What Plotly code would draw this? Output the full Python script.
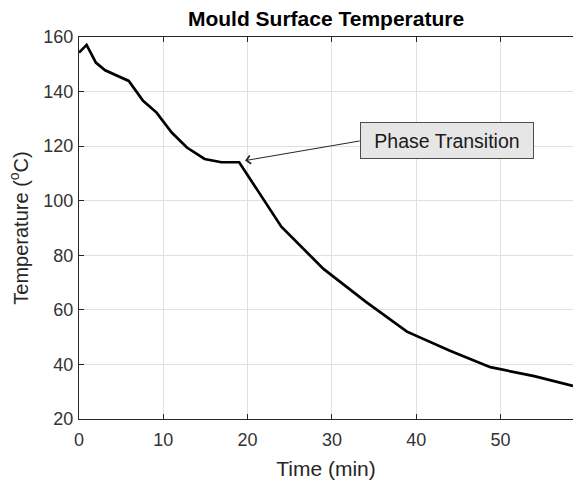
import plotly.graph_objects as go

time_min = [0, 0.9, 2.0, 3.1, 5.9, 7.6, 9.2, 11.0, 12.8, 14.9, 16.9, 19.0, 24.0, 29.0, 34.0, 38.9, 44.0, 48.8, 54.0, 58.6]
temp_c = [154.3, 157.1, 150.6, 147.8, 143.9, 136.6, 132.3, 125.0, 119.5, 115.3, 114.1, 114.1, 90.5, 75.0, 63.0, 52.0, 45.0, 39.0, 35.7, 32.1]
x_ticks = [0, 10, 20, 30, 40, 50]
y_ticks = [20, 40, 60, 80, 100, 120, 140, 160]

font = "Liberation Sans, Arial, Helvetica, sans-serif"
fig = go.Figure()
fig.add_trace(go.Scatter(x=time_min, y=temp_c, mode="lines",
                         line=dict(color="black", width=2.7), showlegend=False))

fig.add_annotation(x=19.7, y=114.7, ax=33.3, ay=121.9, axref="x", ayref="y",
                   xref="x", yref="y", text="Phase Transition", showarrow=True,
                   arrowhead=4, arrowsize=1.6, arrowwidth=1, arrowcolor="#262626",
                   bgcolor="#e6e6e6", bordercolor="#4d4d4d", borderwidth=1,
                   borderpad=5, width=162, height=25, align="center",
                   font=dict(family=font, size=19.5, color="#1a1a1a"),
                   xanchor="left", yanchor="middle")

axis_common = dict(showline=True, linecolor="#262626", linewidth=1,
                   ticks="inside", ticklen=5, tickcolor="#262626",
                   showgrid=True, gridcolor="#e0e0e0", gridwidth=1,
                   zeroline=False, tickfont=dict(family=font, size=18, color="#333333"))

fig.update_layout(
    width=573, height=482,
    paper_bgcolor="white", plot_bgcolor="white",
    margin=dict(l=79, r=0, t=37, b=63),
    title=dict(text="<b>Mould Surface Temperature</b>", x=0.569, xanchor="center",
               y=0.961, yanchor="middle",
               font=dict(family=font, size=21, color="black")),
    xaxis=dict(range=[0, 58.6], tickvals=x_ticks, mirror="ticks", ticklabelstandoff=4,
               title=dict(text="Time (min)", font=dict(family=font, size=21, color="#262626"), standoff=12),
               **axis_common),
    yaxis=dict(range=[20, 160], tickvals=y_ticks, mirror=False, ticklabelstandoff=1,
               title=dict(text="Temperature (<sup>o</sup>C)", font=dict(family=font, size=20, color="#262626"), standoff=9),
               **axis_common),
)

fig.write_html("out.html")
